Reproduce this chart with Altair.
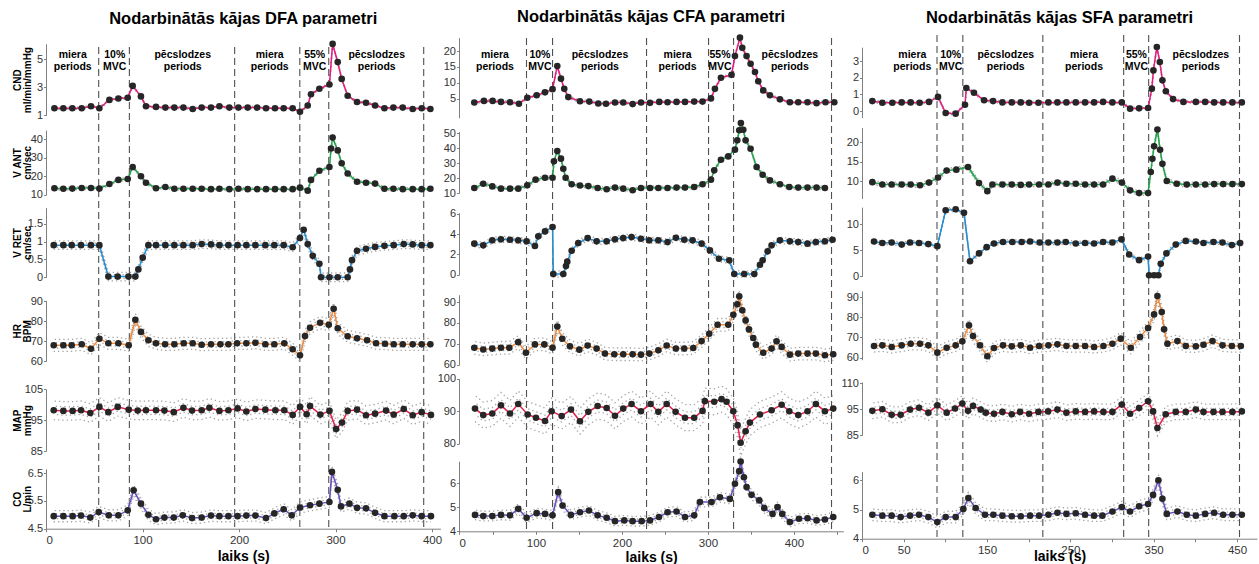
import altair as alt
import pandas as pd

FONT = "Liberation Sans"

# ====================== DFA (column 1) ======================
DFA_CND_T = [8.7,18,27.3,37,46.6,55.3,65.7,75,84.7,89.8,98.4,103.6,114,123.7,133,142.4,152,161.3,171,179.7,190,199.4,209,218.7,228,237.3,246.3,255.6,263.2,271.2,274.6,283.3,293.7,297,302.3,306.4,312.6,322.3,331.6,341,350.7,360,369.7,380,389.3,398.3]
DFA_CND = [1.5,1.5,1.5,1.5,1.65,1.5,2.1,2.2,2.25,3.1,2.35,1.65,1.6,1.55,1.55,1.55,1.45,1.55,1.55,1.65,1.55,1.55,1.55,1.55,1.5,1.5,1.5,1.5,1.25,1.7,2.5,2.9,3.2,6.1,4.8,3.6,2.4,1.95,1.9,1.7,1.5,1.55,1.55,1.45,1.5,1.45]
DFA_VANT_T = [8.7,18,27.3,37,46.6,55.3,65.7,75,84.7,89.8,98.4,103.6,114,123.7,133,142.4,152,161.3,171,179.7,190,199.4,209,218.7,228,237.3,246.3,255.6,263.2,271.2,274.6,283.3,293.7,295.4,297,302.3,306.4,312.6,322.3,331.6,341,350.7,360,369.7,380,389.3,398.3]
DFA_VANT = [13.5,13.2,13.3,13.6,13.6,13.3,15.8,18,18.5,25,20,16.5,13.5,14.2,13.2,13.2,13.2,13.2,13,13.2,13,13.2,13,13,13,13,13,13,13.8,12.2,18,23,25,35,41,34,27,21.5,17,16.5,16,13.2,13.2,13,13,13,13.2]
DFA_VRET_T = [8.0,18.0,26.6,36.3,46.6,55.3,64.6,74.3,85.4,92.6,95.7,100.2,106.1,114,123.7,133,142.4,152,161.3,171,179.7,189,198.5,207.6,217,227.3,236.6,246.3,255.6,263.2,267,271.2,276.4,283.3,285,293.7,302.3,312.6,315,317.1,322.3,331.6,341,350.7,360.3,370.7,380,389.3,398.3]
DFA_VRET = [0.9,0.9,0.9,0.9,0.9,0.9,0.02,0.02,0.02,0.02,0.22,0.55,0.9,0.9,0.9,0.9,0.9,0.9,0.93,0.92,0.9,0.9,0.9,0.9,0.9,0.9,0.9,0.9,0.84,1.1,1.33,0.93,0.6,0.38,0.0,0.0,0.0,0.0,0.22,0.48,0.74,0.8,0.85,0.88,0.9,0.93,0.92,0.9,0.9]
DFA_HR_T = [8.0,18,26.6,37,46.6,55.3,64.6,75,85.7,92.6,98.4,106.1,114,123.4,133,142.7,152,161.3,171,180.7,189,198,207.6,217,227.3,236.6,246.9,255.6,263.2,268.4,273.6,284,293,298.1,302.3,312.6,322.3,332.7,342,351.3,360.3,369.7,380,389.3,398.3]
DFA_HR = [68,68,68,68.5,66.3,71.3,69,69,68,80.8,74.7,70.5,69,68.5,68.5,69,69,68.3,68.5,68.5,68.5,69,69,69.3,68.5,68.5,69,66,63,72.6,76.8,79.3,78.3,86.3,76.5,72.5,71.5,70.5,69,68.8,68.5,68.5,68.5,68.5,68.5]
DFA_MAP_T = [8.0,18.0,27.6,36.3,45.9,55.3,64.6,74.3,85.7,95,103.6,114,122.7,132.4,142.4,151.3,161.3,169.3,179.7,189,198.5,207.6,217,227.3,237.7,246.9,255.6,263.2,270.1,273.6,284.3,293.7,300.6,306.8,312.6,322.3,331.6,341,352.4,360.3,370.7,380,389.3,398.9]
DFA_MAP = [98.2,98,98,98.2,97.3,99.3,97.6,99.3,98.4,98.1,98.2,98.2,98.1,97.6,99,98.1,98.2,99,98,98.2,98.8,97.8,98.6,98.4,98.2,98.2,96.7,99.3,96.9,99.6,96.8,98,92.1,94.2,98,98.4,96.6,97.1,98.1,96.8,98.6,96.6,97.6,96.7]
DFA_CO_T = [8.0,18.0,27.6,36.3,45.9,54.6,65,75,84.7,90.8,98.4,106.1,114,122.7,132.4,141.7,151.3,161.3,171,179.7,189,198.5,207.6,217,228,236.6,246.3,254.6,263.2,273.6,283.3,293.7,296.3,302.3,305.7,314.4,322.3,331.6,341,350.7,361,370.7,380,389.3,398.9]
DFA_CO = [4.95,4.95,4.95,4.97,4.9,5.1,4.98,4.98,5.16,5.88,5.4,5.0,4.84,4.9,4.9,4.98,4.88,4.9,4.97,4.95,4.95,4.95,4.97,4.97,4.88,5.05,5.2,4.98,5.26,5.34,5.4,5.46,6.54,5.9,5.3,5.4,5.25,5.23,5.07,4.95,4.95,4.95,4.98,4.95,4.95]

# ====================== CFA (column 2) ======================
CFA_CND_T = [28.3,39.5,49.6,59.3,69.8,80.2,89.9,100.8,110.5,119.3,124.8,129.1,132.9,137.6,151.2,162,172.4,181.4,191.9,201.5,212.4,222.1,232.6,243.4,253,263.5,273.3,284,293.7,303.5,308.1,315.1,327.4,331.4,337.2,339.9,344.9,349.6,354.7,358.5,364.3,372.1,383.7,395.3,405,415.8,426.3,436.7,446.9]
CFA_CND = [3.8,4.3,4.3,4.0,3.9,3.4,5.3,6.1,7.0,8.0,15.3,11.3,8.1,5.5,4.2,4.1,3.5,3.4,3.8,3.8,3.3,3.8,3.7,4.0,3.9,4.0,4.0,4.1,4.1,5.1,8.1,11.6,12.5,18.4,24.2,21,18.4,16,13.4,10.5,7.6,6.1,4.8,3.9,3.9,3.9,3.6,3.9,3.9]
CFA_VANT_T = [28.3,38.7,49.2,59.3,69.8,79.4,89.9,99.6,110.5,119.3,120.9,124.8,129.1,131.8,134.5,141.5,151.2,160.9,171.7,182.2,191.9,201.5,212.4,222.1,232.6,242.3,253,263.5,273.3,284,293.7,303.5,307.3,315.1,323.6,331.4,334.1,336.4,338.3,341.1,343.8,349.6,356.6,363.6,372.1,383.7,394.6,405,415.8,426.3,436]
CFA_VANT = [13.3,16.2,14.4,12.9,12.9,12.9,15.1,18.9,20.2,20.2,31.1,38,32.9,26.2,20.2,15.8,15,14.6,13.3,12.5,13.6,12.9,11.8,13.3,13.3,13.3,13.3,13.6,13.6,14,15.8,18.9,25.1,32.2,34.4,38.9,45.1,51.8,56.7,52.2,45.1,39.5,27.3,22.2,18.4,15.8,14,13.6,13.6,13.6,13.3]
CFA_VRET_T = [28.3,38.7,49.2,59.3,69.8,79.4,89.1,98.8,102.7,110.5,119.3,120.1,131.8,134.9,136.4,141.5,149.2,160.1,170.5,182.2,191.9,201.5,211.2,222.1,231.8,242.3,253,262.7,272.4,282.1,292.6,302.3,312.8,324.8,330.6,342.2,353.9,360.5,363.6,369.4,374,383.7,395.3,405,415.8,425.5,436,444.9]
CFA_VRET = [3.05,2.89,3.38,3.48,3.44,3.38,3.28,2.82,3.77,4.26,4.69,0.07,0.07,0.85,1.28,2.36,3.11,3.6,3.28,3.28,3.48,3.6,3.7,3.54,3.38,3.38,3.21,3.64,3.44,3.38,3.05,2.39,1.57,1.41,0.07,0.07,0.07,0.98,1.41,2.3,2.89,3.38,3.28,3.21,3.05,3.21,3.28,3.44]
CFA_HR_T = [28.3,38.7,49.2,59.3,69,79.4,88.3,98.8,109.7,119.3,124.8,130.6,139.5,150.4,160.1,170.5,180.2,191.1,201.5,212.4,222.1,231.8,242.3,252,262.7,272.4,282.9,292.6,301.5,311.2,323.6,329.5,334.1,336.4,339.9,343.8,347.7,352.7,355.8,364.3,374,379.8,385.7,395.3,405,415.8,425.5,436,445.7]
CFA_HR = [68.1,67.3,67.7,68.1,68.1,70.8,65.7,69.7,69.7,68.1,78.3,72.4,68.8,67.2,69.2,67.7,65.3,65,65,65,64.8,65.3,66.9,69.2,67.7,67.7,68,71.3,74.8,79.1,79.1,83.9,88.9,92.7,86,81.2,76.9,72.8,69.6,65.7,67.7,71.2,68.5,64.8,65.3,65.3,65.3,64.5,65]
CFA_MAP_T = [29.1,38.7,49.2,59.3,69.8,79.4,90.3,100,110.5,118.2,129.9,140.7,151.2,160.9,171.7,182.2,191.9,201.5,211.2,222.1,233.3,242.3,252,262.4,273.3,284,293.7,296.4,307.3,315.8,321.6,329.5,334.5,338,343.8,348.8,360.5,374,385.7,394.6,405,415.8,425.5,436,445.7]
CFA_MAP = [90.8,88.8,89.3,91.8,89.3,92.2,89,88,87,90,88.5,90.5,86.9,89.8,91.6,91,88.6,90.8,92.2,90,92.2,89.8,92.2,89.8,88,88,90.1,93.1,92.9,93.7,92.9,90,85.7,80.3,83.8,86.5,89,90.3,92,90,88.8,90,92.2,90,90.8]
CFA_CO_T = [29.1,38.7,49.2,59.3,69.8,79.4,89.1,100.8,110.5,119.3,125.9,130.9,140.6,151.2,161.6,171.7,182.2,191.9,202.7,212.4,222.9,232.6,243,253,263.5,273.3,284,290.6,304.2,313.9,325.5,331.4,336.4,338,341.8,344.9,350.7,359.7,365.5,375.1,380.9,386.4,395.3,405.8,415.8,426.3,436,445.7]
CFA_CO = [4.68,4.63,4.63,4.68,4.66,4.93,4.56,4.75,4.72,4.66,5.62,5.07,4.68,4.79,4.86,4.66,4.56,4.42,4.45,4.42,4.42,4.45,4.59,4.79,4.82,4.59,4.66,5.21,5.21,5.41,5.34,5.97,6.49,6.89,6.24,5.83,5.51,5.28,4.96,4.72,5.0,4.72,4.38,4.52,4.54,4.45,4.49,4.59]

# ====================== SFA (column 3) ======================
SFA_CND_T = [12.4,24.4,36.4,47.6,58.4,69.2,80.4,91.2,100.4,112.4,123.6,125.2,134.4,146.5,157.3,168.5,179.7,190.5,200.5,211.7,223.7,234.5,245.3,256.5,267.7,278.5,289.3,300.5,311.8,321.7,332.5,343.3,347.8,349.7,353.8,357.4,360.5,364.6,373.3,385.7,400.6,411.8,422.6,433.4,444.5,455.8]
SFA_CND = [0.6,0.5,0.5,0.52,0.52,0.5,0.55,0.85,-0.12,-0.16,0.38,1.39,1.1,0.65,0.6,0.52,0.52,0.52,0.5,0.5,0.52,0.52,0.52,0.52,0.52,0.52,0.55,0.52,0.52,0.14,0.16,0.18,1.35,2.45,3.86,2.96,1.85,1.19,0.72,0.55,0.55,0.55,0.52,0.52,0.52,0.52]
SFA_VANT_T = [12.4,24.4,35.6,47.6,58.4,69.6,80.4,91.2,101.6,113.2,127.2,140.4,150.4,156.5,168.5,179.7,190.5,200.5,212.5,223.7,234.5,245.3,256.5,267.7,278.5,289.3,300.5,311.8,321.7,332.5,343.3,346.5,348.5,350.5,354.5,357.7,360.5,365.7,377.7,389.7,400.6,411.8,422.6,433.4,444.5,455.8]
SFA_VANT = [9.7,9.1,9.1,9.1,9.1,8.9,9.6,10.9,12.7,12.9,13.6,9.5,7.4,9.1,9.1,9.1,9.0,9.1,9.1,9.1,9.6,9.3,9.3,9.1,9.1,9.1,10.6,9.6,7.6,6.9,6.9,12.3,15.7,18.9,23.2,18,14.4,10,9.3,9.1,9.1,9.1,9.2,9.2,9.2,9.2]
SFA_VRET_T = [14.4,24.4,35.6,47.6,57.6,68.4,79.6,90.4,100.4,112.4,122.4,129.6,140.4,149.6,158.4,169.2,180.4,191.6,201.7,213.3,223.7,234.5,244.5,256.5,267.7,278.5,289.3,300.5,311.4,320.6,332.5,343.3,344.5,350.5,355.7,358.5,365.3,376.5,388.5,400.6,409.8,421.8,432.6,443.8,453.8]
SFA_VRET = [6.7,6.4,6.5,6.1,6.5,6.4,6.2,5.8,12.7,12.9,12.2,2.9,4.4,5.6,6.3,6.6,6.6,6.6,6.7,6.5,6.5,6.5,6.6,6.3,6.4,6.3,6.6,6.5,7.1,4.2,3.1,3.8,0.2,0.2,0.2,2.4,4.4,6.1,6.8,6.7,6.4,6.6,6.5,6.0,6.4]
SFA_HR_T = [14.4,24.4,35.6,47.6,58.4,69.6,79.6,90.4,101.6,112.4,120.4,128.4,133.2,141.6,150.4,158.4,169.2,179.7,190.5,201.7,212.5,223.7,234.5,245.3,256.5,267.7,278.5,289.7,300.5,310.5,322.5,333.7,343.3,350.5,354.5,359.7,362.5,366.5,378.5,388.5,400.6,409.8,420.6,432.6,443.8,454.6]
SFA_HR = [65.8,66.1,65.3,66.1,66.9,66.9,66.1,62.5,64.9,66.1,68.1,76,70.7,66.1,60.7,64.8,66.1,65.6,66.1,64.9,65.8,66.1,66.6,65.8,65.8,65.8,65.3,65.8,66.9,69.4,64.9,70.2,74.7,81.4,90.5,82.6,74,66.9,68.2,65.8,65.6,66.4,68.2,66.1,65.8,65.8]
SFA_MAP_T = [12.4,24.4,35.6,46.4,57.6,68.4,79.6,90.4,101.6,111.6,120.4,127.2,133.2,142.4,148.5,158.4,168.5,179.7,189.7,200.5,211.7,223.3,234.5,245.3,256.5,267.7,278.5,289.7,300.5,311.8,321.7,332.5,343.3,349.3,354.5,364.5,376.5,388.5,400.6,409.8,421.8,432.6,444.5,455.8]
SFA_MAP = [94.4,95,92.9,92.9,94.9,95.6,93.7,96.5,93.7,95.3,97.2,94.4,96.3,94.9,93.7,93.3,94,93.1,94,93.3,94,94.2,94.9,93.7,94.2,94,94.2,94,94,96.8,93.3,95.5,98.1,94.2,87.8,93.1,94,94,94.9,94,94,94,94,94.2]
SFA_CO_T = [12.4,24.4,35.6,46.4,57.6,68.4,79.6,90.4,100.4,112.4,121.6,127.6,136.4,147.6,157.6,168.5,179.7,190.5,201.7,212.5,223.7,234.5,245.3,256.5,267.7,278.5,288.5,300.5,311.8,321.7,332.5,343.3,349.3,355.7,360.5,365.7,378.5,389.7,400.6,411.8,422.6,433.4,444.5,455.8]
SFA_CO = [4.82,4.79,4.79,4.74,4.79,4.82,4.74,4.57,4.74,4.74,5.02,5.39,5.05,4.82,4.82,4.79,4.77,4.77,4.79,4.79,4.82,4.89,4.85,4.87,4.82,4.79,4.79,4.93,5.08,4.93,5.11,5.19,5.5,6.0,5.37,4.85,4.93,4.82,4.79,4.85,4.89,4.82,4.82,4.82]

# period boundaries (s) and period label centres (s)
DFA_MARKS = [54.6, 86.4, 195.5, 263, 293, 391.4]
CFA_MARKS = [89, 119.3, 228.6, 300.7, 329.8, 443.7]
SFA_MARKS = [90, 121, 217, 314, 344, 453]
DFA_LABEL_T = [27.7, 71.2, 141.7, 231.8, 278.4, 342.7]
CFA_LABEL_T = [52.3, 104.6, 174.4, 264.7, 314, 395.3]
SFA_LABEL_T = [60.4, 106.4, 172.5, 266.5, 329.3, 406.6]
PERIODS = ["miera\nperiods", "10%\nMVC", "pēcslodzes\nperiods", "miera\nperiods", "55%\nMVC", "pēcslodzes\nperiods"]

# half-width of the grey beat-to-beat scatter (value units) per panel
DFA_SPREAD = [0.08, 0.8, 0.12, 3.0, 3.0, 0.2]
CFA_SPREAD = [0.4, 1.2, 0.3, 3.0, 4.0, 0.2]
SFA_SPREAD = [0.08, 0.6, 0.4, 3.0, 3.0, 0.2]

ROW_TITLES = [["CND", "ml/min/mmHg"], ["V ANT", "cm/sec"], ["V RET", "cm/sec"],
              ["HR", "BPM"], ["MAP", "mmHg"], ["CO", "L/min"]]
ROW_COLORS = ["#e8197f", "#1ea84b", "#1e8fd8", "#f28b3b", "#e51d48", "#6a4ec4"]
GRAY = "#808080"
TOP = 33  # page y of the top of every column's plot area

# ---------- layout: cal = (v1, px1, v2, px2) page-pixel calibration, axis = drawn y extent ----------
COLUMNS = [
    dict(title="Nodarbinātās kājas DFA parametri", xdom=[0, 408.7], width=394.4, bottom=526.7,
         dash_top=45, marks=DFA_MARKS, label_t=DFA_LABEL_T, spread=DFA_SPREAD,
         xvals=[0, 100, 200, 300, 400], xexpr=None, xtitle_y=28,
         panels=[
             dict(t=DFA_CND_T, v=DFA_CND, cal=(1, 113.3, 5, 57.3), axis=(1, 6.1), ticks=[1, 3, 5]),
             dict(t=DFA_VANT_T, v=DFA_VANT, cal=(10, 192.7, 40, 137.3), axis=(10, 45), ticks=[10, 20, 30, 40]),
             dict(t=DFA_VRET_T, v=DFA_VRET, cal=(0, 275.3, 1.5, 221.7), axis=(0, 1.95), ticks=[0, 0.5, 1, 1.5]),
             dict(t=DFA_HR_T, v=DFA_HR, cal=(60, 359.3, 90, 299.3), axis=(60, 90.5), ticks=[60, 70, 80, 90]),
             dict(t=DFA_MAP_T, v=DFA_MAP, cal=(85, 449, 105, 387.3), axis=(85, 105), ticks=[85, 95, 105]),
             dict(t=DFA_CO_T, v=DFA_CO, cal=(4.5, 526.7, 6.5, 471), axis=(4.5, 6.65), ticks=[4.5, 5.5, 6.5]),
         ]),
    dict(title="Nodarbinātās kājas CFA parametri", xdom=[10.5, 457.4], width=384.3, bottom=529.3,
         dash_top=36, marks=CFA_MARKS, label_t=CFA_LABEL_T, spread=CFA_SPREAD,
         xvals=[10.5, 50, 100, 150, 200, 250, 300, 350, 400, 450],
         xexpr="datum.value < 20 ? '0' : (datum.value % 100 == 50 ? '' : datum.label)", xtitle_y=26,
         panels=[
             dict(t=CFA_CND_T, v=CFA_CND, cal=(5, 96.7, 20, 49), axis=(-1, 24.2), ticks=[5, 10, 15, 20]),
             dict(t=CFA_VANT_T, v=CFA_VANT, cal=(10, 191, 50, 131), axis=(10, 51), ticks=[10, 20, 30, 40, 50]),
             dict(t=CFA_VRET_T, v=CFA_VRET, cal=(0, 272.7, 6, 211.7), axis=(0, 6.1), ticks=[0, 2, 4, 6]),
             dict(t=CFA_HR_T, v=CFA_HR, cal=(60, 362.7, 90, 300), axis=(60, 93.5), ticks=[60, 70, 80, 90]),
             dict(t=CFA_MAP_T, v=CFA_MAP, cal=(80, 441.7, 100, 376.7), axis=(80, 100), ticks=[80, 90, 100]),
             dict(t=CFA_CO_T, v=CFA_CO, cal=(4, 529.3, 6, 481), axis=(3.95, 6.9), ticks=[4, 5, 6]),
         ]),
    dict(title="Nodarbinātās kājas SFA parametri", xdom=[0, 474], width=395, bottom=536.7,
         dash_top=33, marks=SFA_MARKS, label_t=SFA_LABEL_T, spread=SFA_SPREAD,
         xvals=[0, 50, 100, 150, 200, 250, 300, 350, 400, 450],
         xexpr="(datum.value % 100 == 0 && datum.value > 0) ? '' : datum.label", xtitle_y=18,
         panels=[
             dict(t=SFA_CND_T, v=SFA_CND, cal=(0, 109, 3, 59.3), axis=(-0.4, 3.85), ticks=[0, 1, 2, 3]),
             dict(t=SFA_VANT_T, v=SFA_VANT, cal=(10, 179, 20, 140), axis=(5.5, 23.7), ticks=[10, 15, 20]),
             dict(t=SFA_VRET_T, v=SFA_VRET, cal=(0, 274.3, 10, 222.3), axis=(0, 13.3), ticks=[0, 5, 10]),
             dict(t=SFA_HR_T, v=SFA_HR, cal=(60, 355.7, 90, 295), axis=(59, 93), ticks=[60, 70, 80, 90]),
             dict(t=SFA_MAP_T, v=SFA_MAP, cal=(85, 433.3, 95, 407.3), axis=(85, 105.5), ticks=[85, 95, 105],
                  expr="datum.value == 105 ? '110' : datum.label"),
             dict(t=SFA_CO_T, v=SFA_CO, cal=(4, 536.7, 6, 478.3), axis=(4, 6.3), ticks=[4, 5, 6]),
         ]),
]


def make_column(ci):
    c = COLUMNS[ci]
    H = c["bottom"] - TOP
    xscale = alt.Scale(domain=c["xdom"], nice=False, zero=False)
    xax = dict(values=c["xvals"], title="laiks (s)", titleFontSize=14, titleFontWeight="bold",
               titleColor="black", titleY=c["xtitle_y"], titleBaseline="middle", domainColor=GRAY,
               tickColor=GRAY, tickSize=3, labelFontSize=11.5, labelColor="#333333", grid=False,
               format=".6~g", labelPadding=3, orient="bottom")
    if c["xexpr"]:
        xax["labelExpr"] = c["xexpr"]
    xaxis = alt.Axis(**xax)

    def X(f):
        return alt.X(f, type="quantitative", scale=xscale, axis=xaxis)

    layers = [
        alt.Chart(pd.DataFrame({"t": c["marks"]})).mark_rule(
            strokeDash=[7, 4], color="#505050", strokeWidth=1.1
        ).encode(x=X("t"), y=alt.value(c["dash_top"] - TOP), y2=alt.value(H))
    ]

    for ri, p in enumerate(c["panels"]):
        v1, p1, v2, p2 = p["cal"]
        k = (p1 - p2) / (v2 - v1)
        a_lo, a_hi = p["axis"]
        r_lo = p1 - (a_lo - v1) * k - TOP
        r_hi = p1 - (a_hi - v1) * k - TOP
        yscale = alt.Scale(domain=[a_lo, a_hi], range=[r_lo, r_hi], nice=False, zero=False)
        yax = dict(orient="left", values=p["ticks"], domain=True, domainColor=GRAY, grid=False,
                   tickColor=GRAY, tickSize=2.5, labelFontSize=11, labelColor="#333333", labelPadding=1,
                   format=".6~g")
        if "expr" in p:
            yax["labelExpr"] = p["expr"]
        if ci == 0:
            yax.update(title=ROW_TITLES[ri], titleFontSize=10, titleFontWeight="bold", titleColor="black",
                       titleLineHeight=10, titleX=-29, titleY=(r_lo + r_hi) / 2, titleAngle=-90,
                       titleAlign="center", titleBaseline="middle")
        else:
            yax["title"] = None
        yaxis = alt.Axis(**yax)

        def Y(f, yscale=yscale, yaxis=yaxis):
            return alt.Y(f, type="quantitative", scale=yscale, axis=yaxis)

        df = pd.DataFrame({"t": p["t"], "v": p["v"]})
        s = c["spread"][ri]
        sub = []
        for i, f in enumerate([-1.0, -0.45, 0.45, 1.0]):
            sub.append(
                alt.Chart(df).transform_calculate(w=f"datum.v + ({f * s})").mark_line(
                    color="#a3a3a3", strokeWidth=1.3, strokeDash=[1.3, 3.0], strokeDashOffset=i * 1.1
                ).encode(x=X("t"), y=Y("w"))
            )
        sub.append(alt.Chart(df).mark_line(color=ROW_COLORS[ri], strokeWidth=1.5).encode(x=X("t"), y=Y("v")))
        sub.append(alt.Chart(df).mark_circle(size=44, color="#262626", opacity=1).encode(x=X("t"), y=Y("v")))
        layers.append(alt.layer(*sub))

    tdf = pd.DataFrame({"t": c["label_t"], "txt": PERIODS})
    layers.append(
        alt.Chart(tdf).mark_text(
            fontSize=10.5, fontWeight="bold", lineBreak="\n", lineHeight=11.5, baseline="middle",
            align="center", color="black"
        ).encode(x=X("t"), y=alt.value(20), text="txt:N")
    )
    return alt.layer(*layers).resolve_scale(y="independent").resolve_axis(y="independent").properties(
        width=c["width"], height=H,
        title=alt.Title(c["title"], fontSize=16.5, fontWeight="bold", anchor="middle", offset=8, color="black"),
    )


chart = alt.hconcat(*[make_column(i) for i in range(3)], spacing=18, bounds="flush").properties(
    padding={"left": 11, "top": 8, "right": 0, "bottom": 0}, background="white"
).configure(font=FONT).configure_view(stroke="transparent")

chart.save("out.html", embed_options={"renderer": "svg", "actions": False})
